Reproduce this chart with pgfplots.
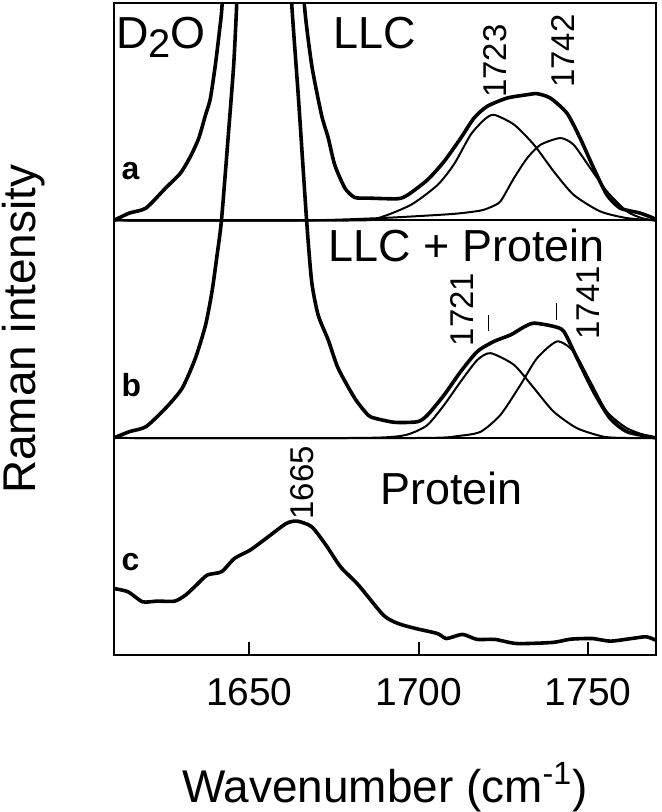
\documentclass[border=0pt]{standalone}
\usepackage{pgfplots}
\pgfplotsset{compat=1.18}
\usepackage{fontspec}
\setmainfont{Liberation Sans}

\begin{document}
\begin{tikzpicture}
\begin{axis}[
  name=ax,
  scale only axis,
  width=271.75pt, height=327pt,
  xmin=1610, xmax=1770, ymin=0, ymax=3,
  xtick={1650,1700,1750},
  xtick pos=bottom,
  ytick=\empty,
  tick align=inside,
  major tick length=7pt,
  axis line style={line width=1pt},
  every tick/.style={black, line width=1pt},
  /pgf/number format/assume math mode=true,
  /pgf/number format/1000 sep={},
  xticklabel style={font=\fontsize{19.5}{22}\selectfont, yshift=-8pt},
  xlabel={Wavenumber (cm\textsuperscript{-1})},
  ylabel={Raman intensity},
  xlabel style={font=\fontsize{23}{27}\selectfont, inner sep=0pt,
    at={(axis description cs:0.5,0)}, anchor=center, yshift=-66pt},
  ylabel style={font=\fontsize{23}{27}\selectfont, inner sep=0pt,
    at={(axis description cs:-0.1656,0.5)}, anchor=center},
  every axis plot/.append style={black, line join=round, line cap=round},
  thickline/.style={line width=1.8pt, smooth, tension=0.4},
  thinline/.style={line width=1pt, smooth, tension=0.4},
]

% panel dividers
\addplot[line width=1pt] coordinates {(1610,1) (1770,1)};
\addplot[line width=1pt] coordinates {(1610,2) (1770,2)};

% (a) LLC
\addplot[thickline] coordinates {
(1610,2.00) (1614.6,2.034) (1619.5,2.057) (1625.3,2.149) (1629.7,2.218)
(1632.7,2.296) (1635.1,2.379) (1637.1,2.486) (1638.5,2.56) (1640,2.717)
(1641.2,2.872) (1642,3.0) (1643,3.4) (1650,4.5) (1658,4.5) (1665,3.4)
(1666.2,3.0) (1668.4,2.716) (1671.3,2.486) (1673.3,2.379) (1675.2,2.256)
(1678.2,2.149) (1681.1,2.106) (1685.0,2.103) (1693.8,2.100) (1696.8,2.118)
(1702.6,2.187) (1707.5,2.272) (1712.4,2.379) (1716.3,2.471) (1720.2,2.525)
(1726.1,2.563) (1731.9,2.578) (1734.9,2.583) (1738.8,2.563) (1743.7,2.494)
(1747.6,2.379) (1751.6,2.241) (1755.5,2.118) (1759.4,2.057) (1765.3,2.034)
(1769.2,2.011) (1770,2.0)};
\addplot[thinline] coordinates {
(1610,2.0) (1680,2.0) (1688,2.011) (1697.7,2.072) (1705.6,2.164)
(1710.5,2.261) (1715.3,2.394) (1719.3,2.463) (1722.2,2.486) (1728.1,2.441)
(1734,2.348) (1739.8,2.226) (1745.7,2.118) (1753.5,2.042) (1761.4,2.011)
(1770,2.0)};
\addplot[thinline] coordinates {
(1610,2.0) (1665,2.0) (1690,2.012) (1710,2.03) (1718,2.045) (1721,2.06)
(1724.1,2.088) (1728.1,2.195) (1732,2.287) (1735.9,2.348) (1741.8,2.379)
(1745.7,2.348) (1750.6,2.241) (1755.5,2.134) (1761.4,2.042) (1766,2.01)
(1770,2.0)};

% (b) LLC + Protein
\addplot[thickline] coordinates {
(1610,1.0) (1614.6,1.029) (1619.5,1.052) (1625.3,1.137) (1630.2,1.229)
(1634.1,1.367) (1637.1,1.520) (1639.0,1.674) (1640.5,1.842) (1641.8,2.003)
(1643.9,2.411) (1645.4,2.717) (1646.3,3.0) (1647,3.3) (1654,4.2) (1661.8,3.3)
(1662.5,3.0) (1664.5,2.563) (1666.9,2.003) (1668.4,1.720) (1670.3,1.566)
(1673.3,1.45) (1676.2,1.321) (1681.1,1.183) (1685,1.106) (1687,1.091)
(1692.9,1.072) (1699.7,1.075) (1702.6,1.106) (1707.5,1.198) (1712.4,1.306)
(1717.3,1.398) (1722.2,1.444) (1727.1,1.474) (1731,1.51) (1734,1.528)
(1739.8,1.513) (1742.8,1.490) (1746.7,1.367) (1751.6,1.213) (1756.4,1.091)
(1761.4,1.029) (1768.2,1.006) (1770,1.0)};
\addplot[thinline] coordinates {
(1610,1.0) (1680,1.0) (1692.9,1.006) (1697.7,1.021) (1702.6,1.06)
(1707.5,1.152) (1712.4,1.26) (1717.3,1.359) (1721.2,1.390) (1728.1,1.336)
(1734,1.229) (1739.8,1.121) (1746.7,1.045) (1754.5,1.006) (1761,1.0)
(1770,1.0)};
\addplot[thinline] coordinates {
(1610,1.0) (1700,1.0) (1712,1.01) (1718.3,1.029) (1724.1,1.106) (1730,1.244)
(1734.9,1.367) (1740.8,1.444) (1745.7,1.398) (1750.6,1.26) (1755.5,1.121)
(1761.4,1.045) (1768,1.006) (1770,1.0)};

% (c) Protein
\addplot[thickline] coordinates {
(1610,0.308) (1614.2,0.293) (1618.5,0.247) (1622.7,0.25) (1628,0.25)
(1631.2,0.278) (1634.4,0.324) (1637.6,0.37) (1641.8,0.385) (1645.6,0.446)
(1650.3,0.485) (1655.6,0.546) (1660.9,0.607) (1664.1,0.618) (1668.4,0.592)
(1672.6,0.508) (1676.9,0.408) (1682.2,0.324) (1689.6,0.185) (1693.9,0.147)
(1699.1,0.124) (1705.5,0.101) (1708.2,0.078) (1712.9,0.097) (1717.2,0.074)
(1722.5,0.074) (1728.9,0.055) (1739.5,0.06) (1744.8,0.075) (1751.2,0.078)
(1756.5,0.066) (1762.8,0.078) (1767.1,0.086) (1770,0.07)};

% annotations
\begin{scope}[every node/.style={inner sep=0pt, font=\fontsize{22.5}{27}\selectfont}]
\node[anchor=base west] at (axis cs:1610.6,2.793) {D\raisebox{-0.22em}{\fontsize{20}{24}\selectfont 2}O};
\node[anchor=base west] at (axis cs:1674.7,2.793) {LLC};
\node[anchor=base west] at (axis cs:1673.3,1.812) {LLC + Protein};
\node[anchor=base west] at (axis cs:1688.5,0.692) {Protein};
\end{scope}
\begin{scope}[every node/.style={inner sep=0pt, rotate=90, anchor=west, font=\fontsize{16.5}{20}\selectfont}]
\node at (axis cs:1722.4,2.563) {1723};
\node at (axis cs:1742.5,2.609) {1742};
\node at (axis cs:1712.9,1.421) {1721};
\node at (axis cs:1750.1,1.451) {1741};
\node at (axis cs:1665.7,0.623) {1665};
\end{scope}
\draw[line width=0.8pt] (axis cs:1720.6,1.490) -- (axis cs:1720.6,1.566);
\draw[line width=0.8pt] (axis cs:1740.6,1.543) -- (axis cs:1740.6,1.620);
\begin{scope}[every node/.style={inner sep=0pt, anchor=base west, font=\bfseries\fontsize{16}{19}\selectfont}]
\node at (axis cs:1612.2,2.187) {a};
\node at (axis cs:1612.2,1.190) {b};
\node at (axis cs:1612.2,0.393) {c};
\end{scope}
\end{axis}
\path ([xshift=-57pt,yshift=-77.5pt]ax.south west) rectangle ([xshift=3pt,yshift=1.5pt]ax.north east);
\end{tikzpicture}
\end{document}
